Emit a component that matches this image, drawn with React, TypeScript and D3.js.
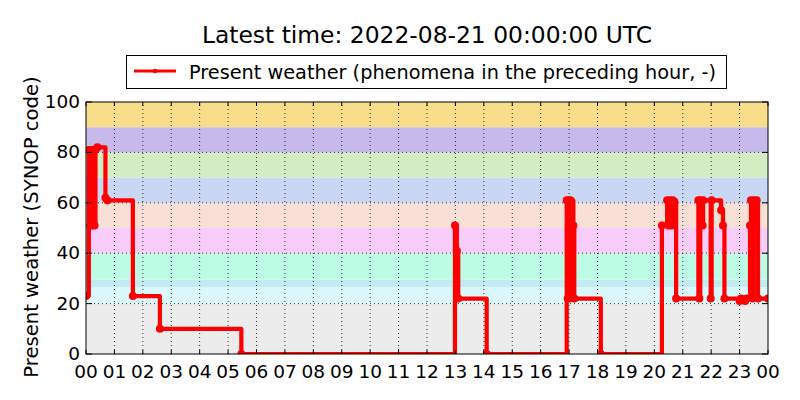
import React from 'react';
import * as d3 from 'd3';

// observation times in minutes after 2022-08-20 00:00 UTC
const obsMinutes = [
  0, 6, 9, 11, 13, 15, 18, 20, 24, 41, 45, 99, 156, 328,
  779, 783, 786, 846,
  1015, 1017, 1019, 1021, 1023, 1029, 1031, 1087,
  1216, 1227, 1230, 1233, 1236, 1239, 1246,
  1293, 1295, 1297, 1302, 1303, 1319, 1321, 1341, 1345, 1348,
  1380, 1383, 1392, 1395, 1402, 1404, 1407, 1410, 1413, 1416, 1419, 1440,
];
const presentWeather = [
  23, 81, 51, 81, 51, 81, 51, 81, 82, 62, 61, 23, 10, 0,
  51, 41, 22, 0,
  61, 22, 61, 22, 61, 51, 22, 0,
  51, 61, 51, 61, 51, 61, 22,
  61, 22, 61, 51, 61, 22, 61, 57, 51, 22,
  21, 22, 21, 22, 51, 61, 22, 61, 51, 61, 22, 22,
];

// SYNOP code background bands
const bandLow = [0, 20, 26.5, 29.5, 40, 50, 60, 70, 80, 90];
const bandHigh = [20, 26.5, 29.5, 40, 50, 60, 70, 80, 90, 100];
const bandColor = [
  '#ececec', '#d9f9fc', '#c4ebf3', '#bcfce4', '#f9cdf9',
  '#f8e0d6', '#c9d6f4', '#d4ecc1', '#c8b9ec', '#f8de8a',
];

const yTicks = [0, 20, 40, 60, 80, 100];
const hourTicks = d3.range(0, 25);

const W = 800;
const H = 400;
const m = { left: 86, right: 32, top: 102, bottom: 46 };
const font = 'DejaVu Sans, sans-serif';

export default function App() {
  const x = d3.scaleLinear().domain([0, 1440]).range([m.left, W - m.right]);
  const y = d3.scaleLinear().domain([0, 100]).range([H - m.bottom, m.top]);
  const x0 = m.left, x1 = W - m.right, y0 = H - m.bottom, y1 = m.top;

  const pts = obsMinutes.map((t, i) => [t, presentWeather[i]] as [number, number]);
  const line = d3.line<[number, number]>()
    .x(d => x(d[0]))
    .y(d => y(d[1]))
    .curve(d3.curveStepAfter);

  return (
    <svg width={W} height={H} style={{ position: 'absolute', left: 0, top: 0, background: '#fff' }}
      fontFamily={font}>
      <defs>
        <clipPath id="plot">
          <rect x={x0} y={y1 - 5} width={x1 - x0} height={y0 - y1 + 5} />
        </clipPath>
      </defs>
      {bandLow.map((lo, i) => (
        <rect key={i} x={x0} width={x1 - x0} y={y(bandHigh[i])}
          height={y(lo) - y(bandHigh[i])} fill={bandColor[i]} />
      ))}
      {hourTicks.slice(1, -1).map(h => (
        <line key={'gx' + h} x1={x(h * 60)} x2={x(h * 60)} y1={y0} y2={y1}
          stroke="#000" strokeWidth={0.8} strokeDasharray="1,3" />
      ))}
      {yTicks.slice(1, -1).map(v => (
        <line key={'gy' + v} x1={x0} x2={x1} y1={y(v)} y2={y(v)}
          stroke="#000" strokeWidth={0.8} strokeDasharray="1,3" />
      ))}
      <g clipPath="url(#plot)">
        <path d={line(pts) || ''} fill="none" stroke="#ff0000" strokeWidth={4.2}
          strokeLinejoin="round" />
        {pts.map((p, i) => (
          <circle key={i} cx={x(p[0])} cy={y(p[1])} r={4} fill="#ff0000" />
        ))}
      </g>
      {/* ticks, inward on all sides */}
      {hourTicks.map(h => (
        <g key={'tx' + h}>
          <line x1={x(h * 60)} x2={x(h * 60)} y1={y0} y2={y0 - 4} stroke="#000" />
          <line x1={x(h * 60)} x2={x(h * 60)} y1={y1} y2={y1 + 4} stroke="#000" />
          <text x={x(h * 60)} y={y0 + 24} textAnchor="middle" fontSize={18.5}>
            {d3.format('02d')(h % 24)}
          </text>
        </g>
      ))}
      {yTicks.map(v => (
        <g key={'ty' + v}>
          <line x1={x0} x2={x0 + 6} y1={y(v)} y2={y(v)} stroke="#000" />
          <line x1={x1} x2={x1 - 6} y1={y(v)} y2={y(v)} stroke="#000" />
          <text x={x0 - 6} y={y(v) + 6} textAnchor="end" fontSize={18.5}>{v}</text>
        </g>
      ))}
      <rect x={x0} y={y1} width={x1 - x0} height={y0 - y1} fill="none" stroke="#000" strokeWidth={1} />
      <text transform={`translate(38,${(y0 + y1) / 2 - 1}) rotate(-90)`} textAnchor="middle" fontSize={19.6}>
        Present weather (SYNOP code)
      </text>
      <text x={(x0 + x1) / 2} y={43} textAnchor="middle" fontSize={23.4}>
        Latest time: 2022-08-21 00:00:00 UTC
      </text>
      {/* legend */}
      <rect x={126.5} y={55.5} width={600} height={33} fill="#fff" stroke="#000" strokeWidth={1} />
      <line x1={134} x2={176} y1={71} y2={71} stroke="#ff0000" strokeWidth={3} />
      <circle cx={155} cy={71} r={2.2} fill="#ff0000" />
      <text x={189} y={78.5} fontSize={19.3}>Present weather (phenomena in the preceding hour, -)</text>
    </svg>
  );
}
